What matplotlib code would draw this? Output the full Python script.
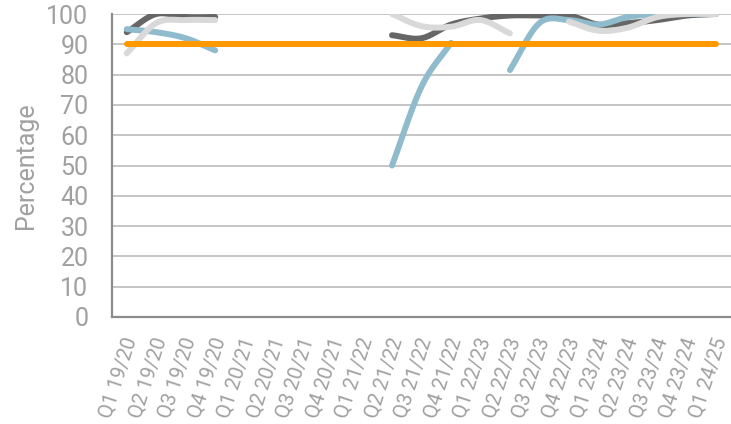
import numpy as np
import matplotlib
matplotlib.use("Agg")
import matplotlib.pyplot as plt
from matplotlib.transforms import ScaledTranslation

nan = np.nan

quarters = ["Q1 19/20", "Q2 19/20", "Q3 19/20", "Q4 19/20",
            "Q1 20/21", "Q2 20/21", "Q3 20/21", "Q4 20/21",
            "Q1 21/22", "Q2 21/22", "Q3 21/22", "Q4 21/22",
            "Q1 22/23", "Q2 22/23", "Q3 22/23", "Q4 22/23",
            "Q1 23/24", "Q2 23/24", "Q3 23/24", "Q4 23/24",
            "Q1 24/25"]

dark = [94, 100, 99, 99, nan, nan, nan, nan, nan,
        93, 92, 96.5, 98.5, 99.5, 99.5, 99.5, 96.5, 97, 98, 99.5, 100]
light = [87, 97, 98, 98, nan, nan, nan, nan, nan,
         100, 96, 95.8, 98, 93.6, nan, 97.5, 94.5, 95.5, 99, 100, 100]
blue = [95, 94, 92, 88, nan, nan, nan, nan, nan,
        50, 76, 90.5, nan, 81.5, 97, 98, 96.5, 99, 100, 100, 100]
target = [90] * len(quarters)


def smooth(xs, ys, n=30):
    # catmull-rom through the points, like excel's smoothed line
    xs = np.asarray(xs, float)
    ys = np.asarray(ys, float)
    px = np.concatenate([[2 * xs[0] - xs[1]], xs, [2 * xs[-1] - xs[-2]]])
    py = np.concatenate([[2 * ys[0] - ys[1]], ys, [2 * ys[-1] - ys[-2]]])
    ox, oy = [], []
    t = np.linspace(0, 1, n)
    for i in range(1, len(px) - 2):
        for p, out in ((px, ox), (py, oy)):
            p0, p1, p2, p3 = p[i - 1], p[i], p[i + 1], p[i + 2]
            c1 = p1 + (p2 - p0) / 6
            c2 = p2 - (p3 - p1) / 6
            out.extend((1 - t) ** 3 * p1 + 3 * (1 - t) ** 2 * t * c1
                       + 3 * (1 - t) * t ** 2 * c2 + t ** 3 * p2)
    return ox, oy


def plot_series(ax, vals, color):
    vals = np.asarray(vals, float)
    x = np.arange(len(vals))
    ok = ~np.isnan(vals)
    start = None
    for i in range(len(vals) + 1):
        good = i < len(vals) and ok[i]
        if good and start is None:
            start = i
        elif not good and start is not None:
            seg = slice(start, i)
            if i - start > 1:
                sx, sy = smooth(x[seg], vals[seg])
                ax.plot(sx, sy, color=color, lw=4.3, solid_capstyle="round")
            start = None


plt.rcParams["font.family"] = ["Roboto", "DejaVu Sans"]
grey_txt = "#a0a0a0"

fig = plt.figure(figsize=(7.31, 4.24), dpi=100)
ax = fig.add_axes([112 / 731, 1 - 317 / 424, 1 - 112 / 731, (317 - 14) / 424])

for v in range(10, 101, 10):
    ax.axhline(v, color="#c0c0c0", lw=1.3, zorder=0)

plot_series(ax, dark, "#666666")
plot_series(ax, blue, "#8fbbcc")
plot_series(ax, light, "#d9d9d9")
ax.plot(np.arange(len(target)), target, color="#ff9900", lw=4.3,
        solid_capstyle="round")

ax.set_xlim(-0.5, len(quarters) - 0.5)
ax.set_ylim(0, 100)
ax.set_yticks(range(0, 101, 10))
ax.set_xticks(range(len(quarters)))
ax.set_xticklabels(quarters, rotation=72, ha="right", va="top",
                   rotation_mode="anchor")
ax.tick_params(axis="both", length=0, colors=grey_txt)
ax.tick_params(axis="y", labelsize=18, pad=17)
ax.tick_params(axis="x", labelsize=14.5, pad=13)
ax.set_ylabel("Percentage", fontsize=18, color=grey_txt, labelpad=6)

shift = ScaledTranslation(-4 / 100, 0, fig.dpi_scale_trans)
for lab in ax.get_xticklabels():
    lab.set_transform(lab.get_transform() + shift)

for s in ("top", "right"):
    ax.spines[s].set_visible(False)
for s in ("left", "bottom"):
    ax.spines[s].set_color("#8c8c8c")
    ax.spines[s].set_linewidth(1.6)

fig.savefig("out.png", dpi=100)
